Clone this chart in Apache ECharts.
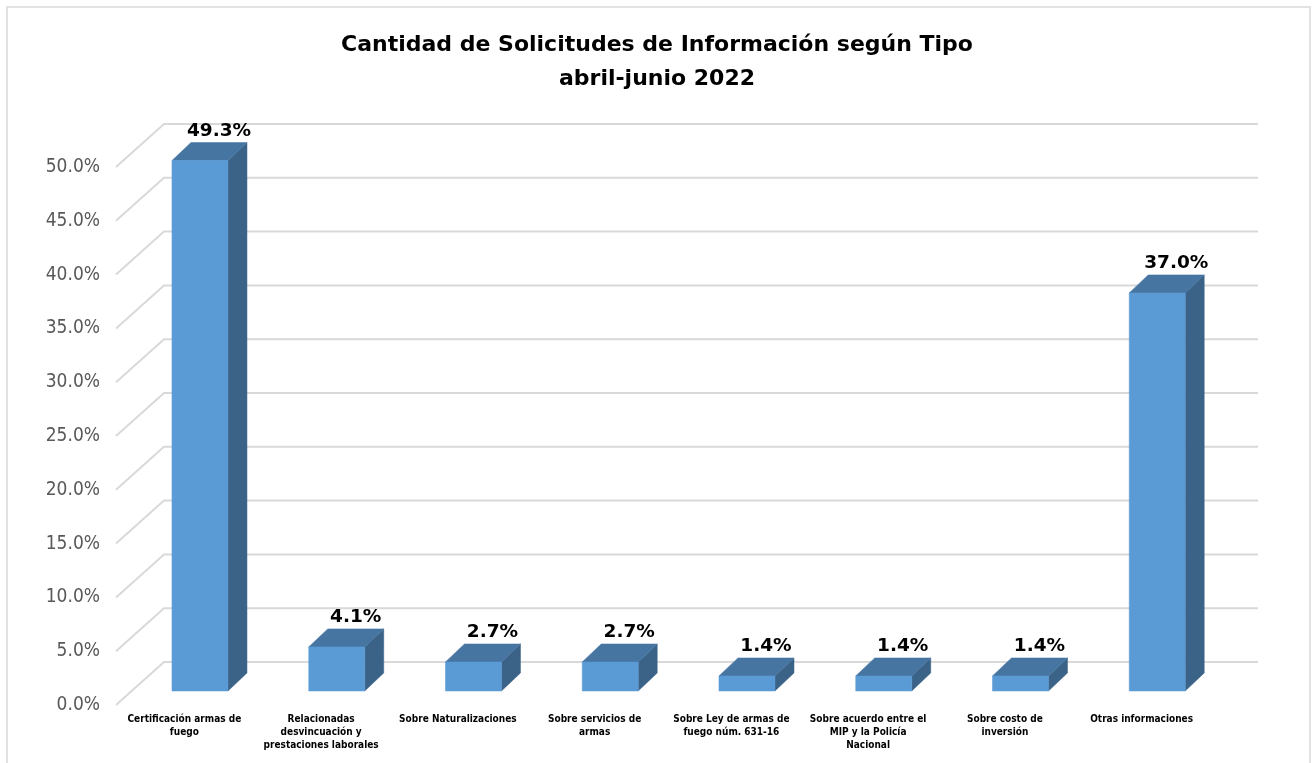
<!DOCTYPE html>
<html>
<head>
<meta charset="utf-8">
<script src="https://cdn.jsdelivr.net/npm/echarts@6/dist/echarts.min.js"></script>
<style>
  html, body { margin: 0; padding: 0; background: #fff; }
  #chart { width: 1314px; height: 763px; }
</style>
</head>
<body>
<div id="chart"></div>
<script>
const categories = [
  'Certificación armas de\nfuego',
  'Relacionadas\ndesvincuación y\nprestaciones laborales',
  'Sobre Naturalizaciones',
  'Sobre servicios de\narmas',
  'Sobre Ley de armas de\nfuego núm. 631-16',
  'Sobre acuerdo entre el\nMIP y la Policía\nNacional',
  'Sobre costo de\ninversión',
  'Otras informaciones'
]
const values = [49.3, 4.1, 2.7, 2.7, 1.4, 1.4, 1.4, 37.0]
const yTicks = [0, 5, 10, 15, 20, 25, 30, 35, 40, 45, 50]

// 3D look: offsets in px
const BAR_SHIFT = [15.6, -14]   // bar plane vs. front (label) plane
const WALL_SHIFT = [48, -43]    // back wall vs. front plane
const DEPTH = [19, -18]         // bar depth
const HALF_W = 28

const chart = echarts.init(document.getElementById('chart'))

const option = {
  animation: false,
  title: {
    text: 'Cantidad de Solicitudes de Información según Tipo\nabril-junio 2022',
    left: 'center',
    top: 23,
    textStyle: {
      fontFamily: 'DejaVu Sans',
      fontWeight: 'bold',
      fontSize: 22,
      lineHeight: 34,
      color: '#000'
    }
  },
  graphic: [
    {
      type: 'rect',
      shape: { x: 7, y: 7, width: 1303, height: 770 },
      style: { fill: 'none', stroke: '#d9d9d9', lineWidth: 1.5 },
      silent: true
    }
  ],
  grid: { left: 116, top: 167, right: 104, bottom: 58 },
  xAxis: {
    type: 'category',
    data: categories,
    axisLine: { show: false },
    axisTick: { show: false },
    axisLabel: {
      interval: 0,
      margin: 8,
      fontFamily: 'DejaVu Sans Condensed',
      fontWeight: 'bold',
      fontSize: 10,
      lineHeight: 13,
      color: '#000'
    }
  },
  yAxis: {
    type: 'value',
    min: 0,
    max: 50,
    interval: 5,
    axisLine: { show: false },
    axisTick: { show: false },
    splitLine: { show: false },
    axisLabel: {
      margin: 16,
      fontFamily: 'DejaVu Sans Condensed',
      fontSize: 19,
      color: '#595959',
      formatter: v => v.toFixed(1) + '%'
    }
  },
  series: [
    {
      // back wall gridlines + diagonal side lines
      type: 'custom',
      silent: true,
      clip: false,
      z: 1,
      data: yTicks.map(t => [0, t]),
      renderItem: (params, api) => {
        const cs = params.coordSys
        const y = api.coord([0, api.value(1)])[1]
        const x0 = cs.x
        return {
          type: 'polyline',
          shape: {
            points: [
              [x0, y],
              [x0 + WALL_SHIFT[0], y + WALL_SHIFT[1]],
              [x0 + cs.width + WALL_SHIFT[0], y + WALL_SHIFT[1]]
            ]
          },
          style: { fill: 'none', stroke: '#d9d9d9', lineWidth: 2 }
        }
      }
    },
    {
      type: 'custom',
      clip: false,
      z: 2,
      data: values.map((v, i) => [i, v]),
      renderItem: (params, api) => {
        const i = api.value(0)
        const v = api.value(1)
        const base = api.coord([i, 0])
        const top = api.coord([i, v])
        const cx = base[0] + BAR_SHIFT[0]
        const B = base[1] + BAR_SHIFT[1]
        const T = top[1] + BAR_SHIFT[1]
        const L = cx - HALF_W
        const R = cx + HALF_W
        const dx = DEPTH[0], dy = DEPTH[1]
        return {
          type: 'group',
          children: [
            {
              type: 'polygon',
              shape: { points: [[R, T], [R + dx, T + dy], [R + dx, B + dy], [R, B]] },
              style: { fill: '#3b6388', stroke: '#3b6388', lineWidth: 0.5 }
            },
            {
              type: 'polygon',
              shape: { points: [[L, T], [L + dx, T + dy], [R + dx, T + dy], [R, T]] },
              style: { fill: '#4675a2', stroke: '#4675a2', lineWidth: 0.5 }
            },
            {
              type: 'rect',
              shape: { x: L, y: T, width: R - L, height: B - T },
              style: { fill: '#5b9bd5', stroke: '#5b9bd5', lineWidth: 0.5 }
            },
            {
              type: 'text',
              style: {
                x: cx + dx,
                y: T + dy - 2,
                text: v.toFixed(1) + '%',
                align: 'center',
                verticalAlign: 'bottom',
                fontFamily: 'DejaVu Sans',
                fontWeight: 'bold',
                fontSize: 18.5,
                fill: '#000'
              }
            }
          ]
        }
      }
    }
  ]
}

chart.setOption(option)
</script>
</body>
</html>
